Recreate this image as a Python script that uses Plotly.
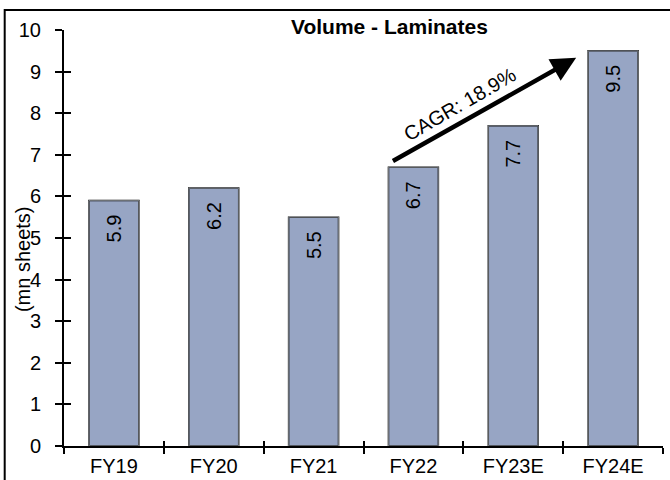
import plotly.graph_objects as go

# Annual laminate volumes (million sheets)
years = ["FY19", "FY20", "FY21", "FY22", "FY23E", "FY24E"]
volumes = [5.9, 6.2, 5.5, 6.7, 7.7, 9.5]
value_labels = ["5.9", "6.2", "5.5", "6.7", "7.7", "9.5"]
y_ticks = [0, 1, 2, 3, 4, 5, 6, 7, 8, 9, 10]

chart_title = "Volume - Laminates"
y_title = "(mn sheets)"
cagr_text = "CAGR: 18.9%"

# CAGR arrow end points in data units (category index, value)
arrow_start = (2.78, 6.83)
arrow_end = (4.63, 9.33)
cagr_label_pos = (3.47, 8.22)

FONT = "Arial, Liberation Sans, sans-serif"
BAR_FILL = "#97A5C4"
FS = 20

fig = go.Figure()

# value labels sit a little below the top of each bar
padded_labels = [lbl + "\u00a0\u00a0" for lbl in value_labels]

fig.add_trace(go.Bar(
    x=years,
    y=volumes,
    width=0.5,
    marker=dict(color=BAR_FILL, line=dict(color="black", width=1.5)),
    text=padded_labels,
    textposition="inside",
    insidetextanchor="end",
    textangle=-90,
    textfont=dict(family=FONT, size=FS, color="black"),
    hoverinfo="skip",
))

# Invisible copy on overlay axes so tick marks can cross the axis lines
fig.add_trace(go.Bar(
    x=years,
    y=volumes,
    width=0.5,
    xaxis="x2",
    yaxis="y2",
    marker=dict(color="rgba(0,0,0,0)"),
    hoverinfo="skip",
    showlegend=False,
))

axis_common = dict(
    showgrid=False,
    zeroline=False,
    showline=True,
    linecolor="black",
    linewidth=2,
    tickcolor="black",
    tickwidth=1.5,
    automargin=False,
)

fig.update_layout(
    width=670,
    height=480,
    margin=dict(l=64, r=7, t=30, b=34),
    paper_bgcolor="white",
    plot_bgcolor="white",
    showlegend=False,
    bargap=0.5,
    font=dict(family=FONT, size=FS, color="black"),
    xaxis=dict(
        **axis_common,
        type="category",
        categoryorder="array",
        categoryarray=years,
        ticks="outside",
        ticklen=6,
        tickson="boundaries",
        ticklabelstandoff=1,
        tickfont=dict(family=FONT, size=FS, color="black"),
    ),
    yaxis=dict(
        **axis_common,
        range=[0, 10],
        tickvals=y_ticks,
        ticks="outside",
        ticklen=7,
        ticklabelstandoff=10,
        tickfont=dict(family=FONT, size=FS, color="black"),
    ),
    xaxis2=dict(
        **axis_common,
        type="category",
        categoryorder="array",
        categoryarray=years,
        overlaying="x",
        anchor="y2",
        side="bottom",
        ticks="inside",
        ticklen=5,
        tickson="boundaries",
        showticklabels=False,
    ),
    yaxis2=dict(
        **axis_common,
        range=[0, 10],
        tickvals=y_ticks,
        overlaying="y",
        anchor="x2",
        side="left",
        ticks="inside",
        ticklen=7,
        showticklabels=False,
    ),
)

# Frame around the whole chart
fig.add_shape(
    type="rect", xref="paper", yref="paper",
    x0=-0.099, x1=1.1, y0=-0.3, y1=1.048,
    line=dict(color="black", width=2),
    fillcolor="rgba(0,0,0,0)",
)

# Title
fig.add_annotation(
    text="<b>" + chart_title + "</b>",
    xref="paper", yref="paper",
    x=0.543, y=1.008, yanchor="middle", xanchor="center",
    showarrow=False,
    font=dict(family=FONT, size=21, color="black"),
)

# Y axis title, overlapping the tick labels
fig.add_annotation(
    text=y_title,
    xref="paper", yref="paper",
    x=-0.068, y=0.45, xanchor="center", yanchor="middle",
    textangle=-90,
    showarrow=False,
    font=dict(family=FONT, size=FS, color="black"),
)

# CAGR arrow
fig.add_annotation(
    x=arrow_end[0], y=arrow_end[1],
    ax=arrow_start[0], ay=arrow_start[1],
    xref="x", yref="y", axref="x", ayref="y",
    text="",
    showarrow=True,
    arrowhead=2,
    arrowsize=1.1,
    arrowwidth=4.5,
    arrowcolor="black",
)

fig.add_annotation(
    x=cagr_label_pos[0], y=cagr_label_pos[1],
    xref="x", yref="y",
    text=cagr_text,
    textangle=-30,
    showarrow=False,
    font=dict(family=FONT, size=FS, color="black"),
)

fig.write_html("out.html")
